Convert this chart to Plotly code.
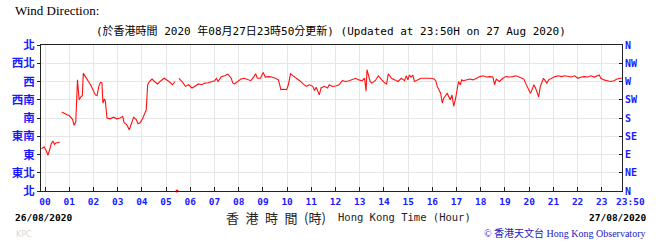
import plotly.graph_objects as go

# ---- data (hours from 00:00 on 27/08/2020, wind direction in degrees) ----
hours = [
    -0.15, -0.04, 0.06, 0.12, 0.19, 0.26, 0.33, 0.39, 0.46, 0.53, 0.60,
    None,
    0.69, 0.80, 0.91, 1.00, 1.14, 1.20, 1.27, 1.34, 1.41, 1.48, 1.54, 1.58, 1.75, 1.88,
    2.08, 2.15, 2.22, 2.29, 2.35, 2.39, 2.45, 2.49, 2.56, 2.69, 2.83, 2.96, 3.10, 3.21,
    3.26, 3.37, 3.48, 3.57, 3.66, 3.77, 3.84, 3.93, 4.04, 4.18, 4.24, 4.31, 4.42, 4.52,
    4.65, 4.79, 4.92, 5.12, 5.26, 5.37,
    None,
    5.53, 5.66, 5.80, 5.93, 6.07, 6.20, 6.34, 6.47, 6.61, 6.74, 6.88, 7.01, 7.08, 7.15,
    7.28, 7.42, 7.55, 7.62, 7.69, 7.76, 7.82, 7.96, 8.09, 8.23, 8.36, 8.50, 8.63, 8.70,
    8.77, 8.90, 9.01, 9.10, 9.24, 9.37, 9.51, 9.64, 9.71, 9.74, 9.85, 9.98, 10.05, 10.14,
    10.25, 10.39, 10.52, 10.66, 10.79, 10.93, 11.06, 11.13, 11.20, 11.33, 11.40, 11.54,
    11.67, 11.74, 11.87, 12.00, 12.15, 12.28, 12.42, 12.56, 12.69, 12.83, 12.96, 13.10,
    13.20, 13.26, 13.30, 13.34, 13.37, 13.43, 13.50, 13.64, 13.77, 13.84, 13.91, 14.04,
    14.11, 14.18, 14.31, 14.45, 14.58, 14.72, 14.85, 14.92, 14.99, 15.05, 15.12, 15.19,
    15.26, 15.39, 15.53, 15.66, 15.80, 15.93, 16.07, 16.14, 16.20, 16.34, 16.41, 16.47,
    16.61, 16.74, 16.81, 16.88, 16.95, 17.01, 17.08, 17.15, 17.21, 17.28, 17.42, 17.55,
    17.69, 17.82, 17.96, 18.10, 18.23, 18.37, 18.50, 18.57, 18.64, 18.77, 18.91, 19.04,
    19.18, 19.31, 19.45, 19.58, 19.72, 19.78, 19.85, 19.92, 19.99, 20.05, 20.12, 20.19,
    20.26, 20.32, 20.39, 20.46, 20.53, 20.59, 20.66, 20.73, 20.80, 20.93, 21.07, 21.20,
    21.34, 21.47, 21.61, 21.74, 21.88, 22.01, 22.15, 22.28, 22.42, 22.55, 22.69, 22.82,
    22.89, 22.96, 23.09, 23.23, 23.36, 23.50, 23.63, 23.77, 23.83,
]
direction = [
    104, 109, 98, 88, 102, 117, 123, 115, 119, 119, 121,
    None,
    195, 191, 188, 186, 176, 162, 170, 274, 225, 232, 235, 290, 274, 262,
    237, 235, 258, 268, 267, 217, 227, 222, 180, 178, 182, 178, 180, 184,
    169, 164, 151, 168, 182, 176, 166, 168, 180, 200, 262, 270, 276, 270,
    264, 272, 278, 270, 262, 270,
    None,
    278, 270, 258, 262, 254, 258, 264, 262, 266, 267, 270, 272, 278, 270,
    282, 284, 288, 284, 278, 266, 264, 270, 276, 278, 276, 272, 282, 289,
    278, 278, 292, 281, 282, 281, 278, 274, 258, 250, 251, 250, 262, 289,
    284, 278, 272, 264, 258, 262, 258, 248, 256, 237, 254, 258,
    254, 262, 258, 259, 262, 272, 270, 272, 274, 278, 274, 272,
    278, 246, 299, 290, 282, 270, 266, 272, 284, 278, 274, 266,
    264, 289, 278, 274, 270, 278, 272, 284, 274, 286, 281, 286,
    270, 274, 278, 278, 278, 278, 276, 272, 258, 241, 217, 229,
    241, 225, 237, 209, 225, 250, 270, 262, 274, 272, 274, 276,
    274, 278, 282, 284, 281, 282, 281, 262, 276, 270, 278, 282,
    281, 282, 284, 281, 278, 276, 266, 258, 250, 241, 250, 262,
    254, 241, 232, 258, 270, 278, 272, 266, 274, 278, 282, 284,
    282, 284, 282, 281, 284, 278, 281, 282, 281, 284, 281, 284,
    286, 278, 274, 272, 270, 272, 276, 278, 278,
]
calm_hours = [5.45]
calm_direction = [0]

hour_ticks = list(range(24)) + [23 + 50 / 60]
hour_labels = ["%02d" % h for h in range(24)] + ["23:50"]
dir_ticks = [0, 45, 90, 135, 180, 225, 270, 315, 360]
dir_labels_zh = ["北", "東北", "東", "東南", "南", "西南", "西", "西北", "北"]
dir_labels_en = ["N", "NE", "E", "SE", "S", "SW", "W", "NW", "N"]

# ---- layout geometry ----
W, H = 656, 248
PL, PR, PT, PB = 30, 622, 45, 191
BLUE = "#1a1aff"
MONO = "DejaVu Sans Mono"
CJK = "Noto Sans CJK TC"


def px_x(px):
    return (px - PL) / (PR - PL)


def px_y(py):
    return (PB - py) / (PB - PT)


fig = go.Figure()
fig.add_trace(go.Scatter(x=hours, y=direction, mode="lines",
                         line=dict(color="#ff1010", width=1.1), connectgaps=False,
                         hoverinfo="skip", showlegend=False))
fig.add_trace(go.Scatter(x=calm_hours, y=calm_direction, mode="markers", yaxis="y2",
                         marker=dict(color="#ff0000", size=3), cliponaxis=False,
                         hoverinfo="skip", showlegend=False))

# the last tick label (23:50) is drawn just right of its tick, as in the original
tick_text_shown = hour_labels[:-1] + [""]

fig.update_layout(
    width=W, height=H,
    margin=dict(l=PL, r=W - PR, t=PT, b=H - PB, pad=0),
    paper_bgcolor="white", plot_bgcolor="white",
    xaxis=dict(range=[-1 / 6, 23 + 50 / 60], tickvals=hour_ticks, ticktext=tick_text_shown,
               tickangle=0,
               showgrid=True, gridcolor="#e6e6e6", gridwidth=1, zeroline=False,
               showline=True, linecolor="#222222", linewidth=1, mirror=True,
               ticks="inside", ticklen=4, tickcolor="#222222",
               tickfont=dict(family=MONO, size=9.5, color=BLUE, weight="bold"),
               ticklabelstandoff=2),
    yaxis=dict(range=[0, 360], tickvals=dir_ticks, ticktext=dir_labels_zh,
               showgrid=True, gridcolor="#e6e6e6", gridwidth=1, zeroline=False,
               showline=True, linecolor="#222222", linewidth=1,
               ticks="outside", ticklen=3, tickcolor="#222222",
               tickfont=dict(family=CJK, size=11.5, color=BLUE, weight="bold")),
    yaxis2=dict(range=[0, 360], tickvals=dir_ticks, ticktext=dir_labels_en,
                overlaying="y", side="right", showgrid=False, zeroline=False,
                showline=True, linecolor="#222222", linewidth=1,
                ticks="inside", ticklen=3, tickcolor="#222222",
                tickfont=dict(family=MONO, size=10, color=BLUE, weight="bold")),
)

ann = [
    dict(text="Wind Direction:", x=px_x(1), y=px_y(11), xanchor="left", yanchor="middle",
         font=dict(family="Liberation Serif", size=13, color="#000000")),
    dict(text="(於香港時間 2020 年08月27日23時50分更新) (Updated at 23:50H on 27 Aug 2020)",
         x=px_x(325), y=px_y(31), xanchor="center", yanchor="middle",
         font=dict(family=MONO + ", " + CJK, size=11, color="#000000")),
    dict(text=hour_labels[-1], x=px_x(631), y=px_y(201), xanchor="center", yanchor="middle",
         font=dict(family=MONO, size=9.5, color=BLUE, weight="bold")),
    dict(text="26/08/2020", x=px_x(1), y=px_y(217), xanchor="left", yanchor="middle",
         font=dict(family=MONO, size=9.5, color="#000000", weight="bold")),
    dict(text="香\u2002港\u2002時\u2002間\u2002(時)", x=px_x(322), y=px_y(217),
         xanchor="right", yanchor="middle",
         font=dict(family=CJK, size=13, color="#222222")),
    dict(text="Hong Kong Time (Hour)", x=px_x(331), y=px_y(217), xanchor="left",
         yanchor="middle", font=dict(family=MONO, size=10.5, color="#222222")),
    dict(text="27/08/2020", x=px_x(648), y=px_y(217), xanchor="right", yanchor="middle",
         font=dict(family=MONO, size=9.5, color="#000000", weight="bold")),
    dict(text="© 香港天文台 Hong Kong Observatory", x=px_x(647), y=px_y(233),
         xanchor="right", yanchor="middle",
         font=dict(family="Liberation Serif, " + CJK, size=10, color="#2020c0")),
    dict(text="KPC", x=px_x(2), y=px_y(235), xanchor="left", yanchor="middle",
         font=dict(family="DejaVu Sans", size=8, color="#d8d8d8")),
]
for a in ann:
    a.update(xref="paper", yref="paper", showarrow=False)
fig.update_layout(annotations=ann)

fig.write_html("out.html")
